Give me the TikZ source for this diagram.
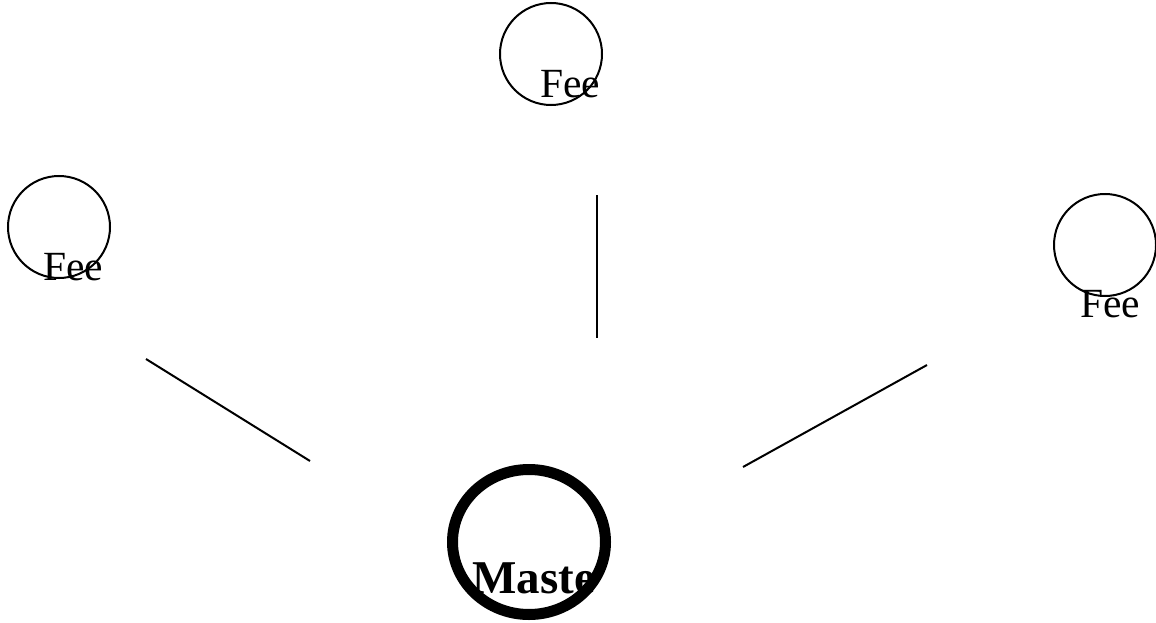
\documentclass[tikz,border=0pt]{standalone}
\usepackage{fontspec}
\setmainfont{Liberation Serif}
\usetikzlibrary{shapes.geometric}
\begin{document}
\begin{tikzpicture}[x=1pt, y=-1pt,
    fee/.style={draw, circle, line width=2pt, inner sep=0pt, minimum size=102pt},
    feetext/.style={anchor=base west, inner sep=0pt, font=\fontsize{41.5}{41.5}\selectfont},
    master/.style={draw, ellipse, line width=11pt, inner sep=0pt, minimum width=153pt, minimum height=145pt},
    mastertext/.style={anchor=base west, inner sep=0pt, font=\fontsize{47}{47}\selectfont\bfseries},
    link/.style={line width=2pt}]
    \useasboundingbox (0, 0) rectangle (1156, 623);
    \node [fee] (topfee) at (551, 54) {};
    \node [feetext] (topfeetxt) at (540, 98) {Fee};
    \node [fee] (leftfee) at (59, 227) {};
    \node [feetext] (leftfeetxt) at (43, 280) {Fee};
    \node [fee] (rightfee) at (1105, 245) {};
    \node [feetext] (rightfeetxt) at (1080, 317) {Fee};
    \node [master] (master) at (529, 542) {};
    \node [mastertext] (mastertxt) at (472, 593) {Maste};
    \coordinate (l1) at (146, 359);
    \coordinate (l2) at (310, 461);
    \coordinate (m1) at (597, 195);
    \coordinate (m2) at (597, 338);
    \coordinate (r1) at (927, 365);
    \coordinate (r2) at (743, 467);
    \draw [link] (l1) -- (l2);
    \draw [link] (m1) -- (m2);
    \draw [link] (r1) -- (r2);
  \end{tikzpicture}
\end{document}
